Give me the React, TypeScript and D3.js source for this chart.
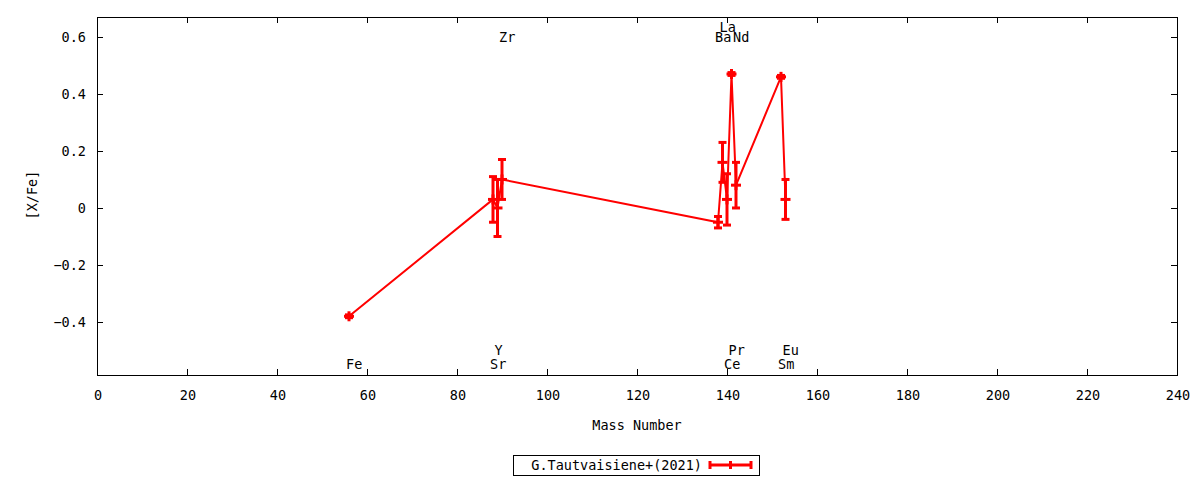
import React from 'react';
import * as d3 from 'd3';

// abundance pattern, one point per element (mass number of the main isotope)
const elements = ['Fe', 'Sr', 'Y', 'Zr', 'Ba', 'La', 'Ce', 'Pr', 'Nd', 'Sm', 'Eu'];
const masses = [56, 88, 89, 90, 138, 139, 140, 141, 142, 152, 153];
const values = [-0.38, 0.03, 0.0, 0.1, -0.05, 0.16, 0.03, 0.47, 0.08, 0.46, 0.03];
const errors = [0.005, 0.08, 0.1, 0.07, 0.02, 0.07, 0.09, 0.005, 0.08, 0.005, 0.07];
// where each element name sits: 'top' / 'bottom', and the row it is stacked in
const labelSide = ['bottom', 'bottom', 'bottom', 'top', 'top', 'top', 'bottom', 'bottom', 'top', 'bottom', 'bottom'];
const labelRow = [0, 0, 1, 0, 0, 1, 0, 1, 0, 0, 1];

const xTicks = [0, 20, 40, 60, 80, 100, 120, 140, 160, 180, 200, 220, 240];
const yTicks = [-0.4, -0.2, 0, 0.2, 0.4, 0.6];
const seriesName = 'G.Tautvaisiene+(2021)';

const FONT = '"DejaVu Sans Mono", monospace';

class Chart extends React.Component {
	ref = React.createRef<SVGSVGElement>();

	componentDidMount() {
		this.drawChart();
	}

	drawChart() {
		const w = 1200;
		const h = 480;
		const m = { left: 97, right: 1177, top: 17, bottom: 375 };

		const x = d3.scaleLinear().domain([0, 240]).range([m.left, m.right]);
		const y = d3.scaleLinear().domain([-0.586, 0.67]).range([m.bottom, m.top]);

		const svg = d3.select(this.ref.current);
		svg.selectAll('*').remove();
		svg.attr('width', w).attr('height', h);

		svg.append('rect')
			.attr('width', w).attr('height', h)
			.attr('fill', 'white');

		// ticks, with mirrors on the top and right
		const tl = 6;
		const ticks = svg.append('g').attr('stroke', 'black').attr('stroke-width', 1);
		xTicks.forEach(t => {
			const px = Math.round(x(t)) + 0.5;
			ticks.append('line').attr('x1', px).attr('x2', px).attr('y1', m.bottom).attr('y2', m.bottom - tl);
			ticks.append('line').attr('x1', px).attr('x2', px).attr('y1', m.top).attr('y2', m.top + tl);
		});
		yTicks.forEach(t => {
			const py = Math.round(y(t)) + 0.5;
			ticks.append('line').attr('x1', m.left).attr('x2', m.left + tl).attr('y1', py).attr('y2', py);
			ticks.append('line').attr('x1', m.right).attr('x2', m.right - tl).attr('y1', py).attr('y2', py);
		});

		svg.append('rect')
			.attr('x', m.left + 0.5).attr('y', m.top + 0.5)
			.attr('width', m.right - m.left).attr('height', m.bottom - m.top)
			.attr('fill', 'none').attr('stroke', 'black');

		const txt = svg.append('g')
			.attr('font-family', FONT)
			.attr('font-size', '13.5px')
			.attr('fill', 'black');

		txt.selectAll('.xl')
			.data(xTicks)
			.enter()
			.append('text')
			.text(d => d)
			.attr('x', d => x(d) + 1)
			.attr('y', 395)
			.attr('dy', '0.35em')
			.attr('text-anchor', 'middle');

		txt.selectAll('.yl')
			.data(yTicks)
			.enter()
			.append('text')
			.text(d => d3.format('.1f')(d).replace(/^0\.0$|^-0\.0$/, '0'))
			.attr('x', 86)
			.attr('y', d => y(d))
			.attr('dy', '0.35em')
			.attr('text-anchor', 'end');

		txt.append('text')
			.text('Mass Number')
			.attr('x', (m.left + m.right) / 2)
			.attr('y', 425)
			.attr('dy', '0.35em')
			.attr('text-anchor', 'middle');

		txt.append('text')
			.text('[X/Fe]')
			.attr('transform', 'translate(32,' + 195 + ') rotate(-90)')
			.attr('dy', '0.35em')
			.attr('text-anchor', 'middle');

		// element names
		txt.selectAll('.el')
			.data(elements)
			.enter()
			.append('text')
			.text(d => d)
			.attr('x', (d, i) => x(masses[i]) - 3)
			.attr('y', (d, i) => labelSide[i] === 'top'
				? y(0.6) - labelRow[i] * 10
				: y(-0.545) + 1 - labelRow[i] * 14)
			.attr('dy', '0.35em')
			.attr('text-anchor', 'start');

		// data
		const red = '#ff0000';
		const pts = masses.map((mm, i) => [x(mm), y(values[i])] as [number, number]);

		svg.append('path')
			.attr('d', d3.line()(pts))
			.attr('fill', 'none')
			.attr('stroke', red)
			.attr('stroke-width', 2);

		const bars = svg.append('g').attr('stroke', red).attr('stroke-width', 3);
		const cap = 4;
		const pt = 5;
		masses.forEach((mm, i) => {
			const px = x(mm);
			const y1 = y(values[i] + errors[i]);
			const y0 = y(values[i] - errors[i]);
			const yc = y(values[i]);
			bars.append('line').attr('x1', px).attr('x2', px).attr('y1', y1).attr('y2', y0);
			bars.append('line').attr('x1', px - cap).attr('x2', px + cap).attr('y1', y1).attr('y2', y1);
			bars.append('line').attr('x1', px - cap).attr('x2', px + cap).attr('y1', y0).attr('y2', y0);
			// plus marker
			bars.append('line').attr('x1', px - pt).attr('x2', px + pt).attr('y1', yc).attr('y2', yc);
			bars.append('line').attr('x1', px).attr('x2', px).attr('y1', yc - pt).attr('y2', yc + pt);
		});

		// legend
		const lg = svg.append('g');
		lg.append('rect')
			.attr('x', 513.5).attr('y', 455.5)
			.attr('width', 246).attr('height', 20)
			.attr('fill', 'white').attr('stroke', 'black');
		lg.append('text')
			.text(seriesName)
			.attr('x', 702).attr('y', 465)
			.attr('dy', '0.35em')
			.attr('text-anchor', 'end')
			.attr('font-family', FONT)
			.attr('font-size', '13.5px');
		const lgl = lg.append('g').attr('stroke', red).attr('stroke-width', 3);
		lgl.append('line').attr('x1', 710).attr('x2', 751).attr('y1', 465).attr('y2', 465);
		[710, 751, 730.5].forEach(px => {
			lgl.append('line').attr('x1', px).attr('x2', px).attr('y1', 461).attr('y2', 469);
		});
	}

	render() {
		return (
			<svg ref={this.ref} style={{ position: 'absolute', left: 0, top: 0 }} />
		);
	}
}

export default function App() {
	return <Chart />;
}
